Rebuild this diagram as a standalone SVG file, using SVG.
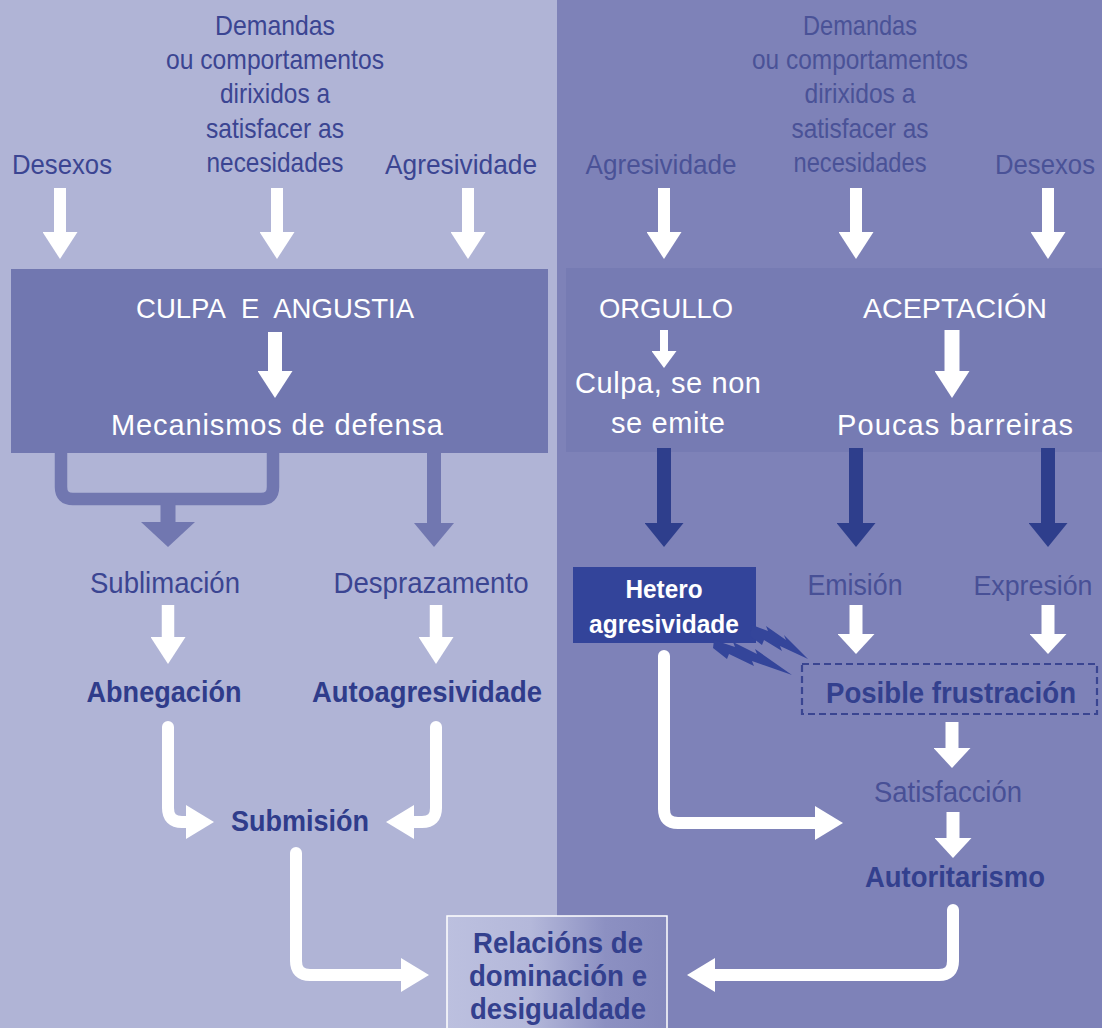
<svg xmlns="http://www.w3.org/2000/svg" width="1102" height="1028" viewBox="0 0 1102 1028">
  <defs>
    <style>
      text { font-family: "Liberation Sans", Arial, sans-serif; text-anchor: middle; }
      .lbl { font-size: 28px; fill: #3b4592; }
      .lblr { font-size: 28px; fill: #4a5297; }
      .mid { font-size: 30px; fill: #3b4592; }
      .midr { font-size: 30px; fill: #485096; }
      .bold { font-size: 30px; font-weight: bold; fill: #2f3c8b; }
      .boldr { font-size: 30px; font-weight: bold; fill: #33408e; }
      .cap { font-size: 28px; fill: #ffffff; }
      .inb { font-size: 29px; fill: #ffffff; }
      .het { font-size: 25px; font-weight: bold; fill: #ffffff; }
      .wline { stroke: #ffffff; fill: none; }
      .wcurve { stroke: #ffffff; fill: none; stroke-width: 12; stroke-linecap: round; stroke-linejoin: round; }
      .dline { stroke: #2e3e8c; fill: none; stroke-width: 14; }
      .pline { stroke: #7177b0; fill: none; }
      .bolt { fill: #34459a; }
    </style>
    <marker id="hW" markerUnits="userSpaceOnUse" viewBox="0 -17.5 27 35" refX="0" refY="0" markerWidth="27" markerHeight="35" orient="auto">
      <path d="M0,-17.5 L27,0 L0,17.5 z" fill="#ffffff"/>
    </marker>
    <marker id="hW2" markerUnits="userSpaceOnUse" viewBox="0 -18.5 20 37" refX="0" refY="0" markerWidth="20" markerHeight="37" orient="auto">
      <path d="M0,-18.5 L20,0 L0,18.5 z" fill="#ffffff"/>
    </marker>
    <marker id="hS" markerUnits="userSpaceOnUse" viewBox="0 -12.5 17 25" refX="0" refY="0" markerWidth="17" markerHeight="25" orient="auto">
      <path d="M0,-12.5 L17,0 L0,12.5 z" fill="#ffffff"/>
    </marker>
    <marker id="hC" markerUnits="userSpaceOnUse" viewBox="0 -17 28 34" refX="0" refY="0" markerWidth="28" markerHeight="34" orient="auto">
      <path d="M0,-17 L28,0 L0,17 z" fill="#ffffff"/>
    </marker>
    <marker id="hD" markerUnits="userSpaceOnUse" viewBox="0 -19.5 24 39" refX="0" refY="0" markerWidth="24" markerHeight="39" orient="auto">
      <path d="M0,-19.5 L24,0 L0,19.5 z" fill="#2e3e8c"/>
    </marker>
    <marker id="hP1" markerUnits="userSpaceOnUse" viewBox="0 -27 25 54" refX="0" refY="0" markerWidth="25" markerHeight="54" orient="auto">
      <path d="M0,-27 L25,0 L0,27 z" fill="#7177b0"/>
    </marker>
    <marker id="hP2" markerUnits="userSpaceOnUse" viewBox="0 -20 24 40" refX="0" refY="0" markerWidth="24" markerHeight="40" orient="auto">
      <path d="M0,-20 L24,0 L0,20 z" fill="#7177b0"/>
    </marker>
    <linearGradient id="gRel" x1="0" y1="0" x2="1" y2="0">
      <stop offset="0" stop-color="#bcc0df"/>
      <stop offset="0.38" stop-color="#b4b8da"/>
      <stop offset="0.72" stop-color="#8c90c2"/>
      <stop offset="1" stop-color="#8488bc"/>
    </linearGradient>
  </defs>

  <!-- two halves of the background -->
  <rect x="0" y="0" width="557" height="1028" fill="#b0b4d6"/>
  <rect x="557" y="0" width="545" height="1028" fill="#7e82b8"/>

  <!-- left column: inputs -->
  <g id="n-desexos-l"><text class="lbl" x="62" y="174" textLength="100" lengthAdjust="spacingAndGlyphs">Desexos</text></g>
  <g id="n-demandas-l">
    <text class="lbl" x="275" y="35" textLength="120" lengthAdjust="spacingAndGlyphs">Demandas</text>
    <text class="lbl" x="275" y="69" textLength="218" lengthAdjust="spacingAndGlyphs">ou comportamentos</text>
    <text class="lbl" x="275" y="103" textLength="110" lengthAdjust="spacingAndGlyphs">dirixidos a</text>
    <text class="lbl" x="275" y="138" textLength="138" lengthAdjust="spacingAndGlyphs">satisfacer as</text>
    <text class="lbl" x="275" y="172" textLength="137" lengthAdjust="spacingAndGlyphs">necesidades</text>
  </g>
  <g id="n-agresividade-l"><text class="lbl" x="461" y="174" textLength="152" lengthAdjust="spacingAndGlyphs">Agresividade</text></g>

  <!-- right column: inputs -->
  <g id="n-agresividade-r"><text class="lblr" x="661" y="174" textLength="151" lengthAdjust="spacingAndGlyphs">Agresividade</text></g>
  <g id="n-demandas-r">
    <text class="lblr" x="860" y="35" textLength="114" lengthAdjust="spacingAndGlyphs">Demandas</text>
    <text class="lblr" x="860" y="69" textLength="216" lengthAdjust="spacingAndGlyphs">ou comportamentos</text>
    <text class="lblr" x="860" y="103" textLength="111" lengthAdjust="spacingAndGlyphs">dirixidos a</text>
    <text class="lblr" x="860" y="138" textLength="137" lengthAdjust="spacingAndGlyphs">satisfacer as</text>
    <text class="lblr" x="860" y="172" textLength="133" lengthAdjust="spacingAndGlyphs">necesidades</text>
  </g>
  <g id="n-desexos-r"><text class="lblr" x="1045" y="174" textLength="100" lengthAdjust="spacingAndGlyphs">Desexos</text></g>

  <!-- left box: guilt and anguish -->
  <g id="n-culpa">
    <rect x="11" y="269" width="537" height="184" fill="#7177b0"/>
    <text class="cap" x="275" y="318" textLength="278" lengthAdjust="spacingAndGlyphs">CULPA&#160; E&#160; ANGUSTIA</text>
    <text class="inb" x="277" y="435" textLength="332">Mecanismos de defensa</text>
  </g>

  <!-- right box: pride and acceptance -->
  <g id="n-orgullo-aceptacion">
    <rect x="566" y="268" width="536" height="184" fill="#767bb3"/>
    <text class="cap" x="666" y="318" textLength="134" lengthAdjust="spacingAndGlyphs">ORGULLO</text>
    <text class="cap" x="955" y="318" textLength="184" lengthAdjust="spacingAndGlyphs">ACEPTACIÓN</text>
    <text class="inb" x="668" y="393" textLength="186">Culpa, se non</text>
    <text class="inb" x="668" y="433" textLength="114">se emite</text>
    <text class="inb" x="955" y="435" textLength="236">Poucas barreiras</text>
  </g>

  <!-- left outcomes -->
  <g id="n-sublimacion"><text class="mid" x="165" y="593" textLength="150" lengthAdjust="spacingAndGlyphs">Sublimación</text></g>
  <g id="n-desprazamento"><text class="mid" x="431" y="593" textLength="195" lengthAdjust="spacingAndGlyphs">Desprazamento</text></g>
  <g id="n-abnegacion"><text class="bold" x="164" y="702" textLength="155" lengthAdjust="spacingAndGlyphs">Abnegación</text></g>
  <g id="n-autoagresividade"><text class="bold" x="427" y="702" textLength="230" lengthAdjust="spacingAndGlyphs">Autoagresividade</text></g>
  <g id="n-submision"><text class="bold" x="300" y="831" textLength="138" lengthAdjust="spacingAndGlyphs">Submisión</text></g>

  <!-- right outcomes -->
  <g id="n-hetero">
    <rect x="573" y="567" width="183" height="76" fill="#33449a"/>
    <text class="het" x="664" y="598" textLength="77" lengthAdjust="spacingAndGlyphs">Hetero</text>
    <text class="het" x="664" y="633" textLength="150" lengthAdjust="spacingAndGlyphs">agresividade</text>
  </g>
  <g id="n-emision"><text class="midr" x="855" y="595" textLength="95" lengthAdjust="spacingAndGlyphs">Emisión</text></g>
  <g id="n-expresion"><text class="midr" x="1033" y="595" style="font-size:28px" textLength="119" lengthAdjust="spacingAndGlyphs">Expresión</text></g>
  <g id="n-frustracion">
    <rect x="802" y="664" width="295" height="50" fill="none" stroke="#3a4591" stroke-width="2.2" stroke-dasharray="7 4"/>
    <text class="boldr" x="951" y="703" textLength="250" lengthAdjust="spacingAndGlyphs">Posible frustración</text>
  </g>
  <g id="n-satisfaccion"><text class="midr" x="948" y="802" textLength="148" lengthAdjust="spacingAndGlyphs">Satisfacción</text></g>
  <g id="n-autoritarismo"><text class="boldr" x="955" y="887" style="font-size:29px" textLength="180" lengthAdjust="spacingAndGlyphs">Autoritarismo</text></g>

  <!-- shared result -->
  <g id="n-relacions">
    <rect x="447" y="916" width="220" height="120" fill="url(#gRel)" stroke="#ffffff" stroke-width="1.5"/>
    <text class="boldr" x="558" y="953" style="font-size:29px" textLength="170" lengthAdjust="spacingAndGlyphs">Relacións de</text>
    <text class="boldr" x="558" y="986" style="font-size:29px" textLength="178" lengthAdjust="spacingAndGlyphs">dominación e</text>
    <text class="boldr" x="558" y="1019" style="font-size:29px" textLength="176" lengthAdjust="spacingAndGlyphs">desigualdade</text>
  </g>

  <!-- connectors -->
  <g id="connectors">
    <!-- inputs into the boxes -->
    <path class="wline" stroke-width="12" d="M60,188 V232" marker-end="url(#hW)"/>
    <path class="wline" stroke-width="12" d="M277,188 V232" marker-end="url(#hW)"/>
    <path class="wline" stroke-width="12" d="M468,188 V232" marker-end="url(#hW)"/>
    <path class="wline" stroke-width="12" d="M664,188 V232" marker-end="url(#hW)"/>
    <path class="wline" stroke-width="12" d="M856,188 V232" marker-end="url(#hW)"/>
    <path class="wline" stroke-width="12" d="M1048,188 V232" marker-end="url(#hW)"/>

    <!-- inside the boxes -->
    <path class="wline" stroke-width="14" d="M275,332 V371" marker-end="url(#hW)"/>
    <path class="wline" stroke-width="8" d="M664,330 V351" marker-end="url(#hS)"/>
    <path class="wline" stroke-width="15" d="M952,330 V371" marker-end="url(#hW)"/>

    <!-- defence mechanisms -->
    <path class="pline" stroke-width="12.5" stroke-linejoin="round" d="M61,453 V487 Q61,499 73,499 H261 Q273,499 273,487 V453"/>
    <path class="pline" stroke-width="15" d="M168,499 V522" marker-end="url(#hP1)"/>
    <path class="pline" stroke-width="14" d="M434,453 V523" marker-end="url(#hP2)"/>

    <!-- dark arrows out of the right box -->
    <path class="dline" d="M664,448 V523" marker-end="url(#hD)"/>
    <path class="dline" d="M856,448 V523" marker-end="url(#hD)"/>
    <path class="dline" d="M1048,448 V523" marker-end="url(#hD)"/>

    <!-- left chain -->
    <path class="wline" stroke-width="12.5" d="M168,605 V637" marker-end="url(#hW)"/>
    <path class="wline" stroke-width="12.5" d="M436,605 V637" marker-end="url(#hW)"/>
    <path class="wcurve" d="M168,727 V808 Q168,822 182,822 H186" marker-end="url(#hC)"/>
    <path class="wcurve" d="M436,727 V808 Q436,822 422,822 H414" marker-end="url(#hC)"/>
    <path class="wcurve" d="M296,853 V961 Q296,975 310,975 H401" marker-end="url(#hC)"/>

    <!-- right chain -->
    <path class="wline" stroke-width="13" d="M856,605 V634" marker-end="url(#hW2)"/>
    <path class="wline" stroke-width="13" d="M1048,605 V634" marker-end="url(#hW2)"/>
    <path class="wline" stroke-width="13" d="M952,722 V748" marker-end="url(#hW2)"/>
    <path class="wline" stroke-width="13" d="M953,812 V838" marker-end="url(#hW2)"/>
    <path class="wcurve" d="M664,656 V809 Q664,823 678,823 H815" marker-end="url(#hC)"/>
    <path class="wcurve" d="M953,910 V961 Q953,975 939,975 H715" marker-end="url(#hC)"/>

    <!-- jagged strokes from hetero-aggression to frustration -->
    <polygon class="bolt" points="752,625 768,631 766,626 786,640 784,635 808,659 780,646 782,651 764,640 762,645 750,636"/>
    <polygon class="bolt" points="714,640 735,647 733,642 757,654 755,649 792,675 752,661 754,666 729,654 727,659 713,648"/>
  </g>
</svg>
